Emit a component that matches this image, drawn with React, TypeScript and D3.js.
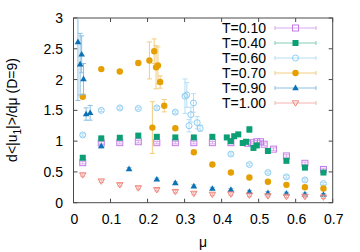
import React from "react";
import * as d3 from "d3";

const X_TICKS = [0, 0.1, 0.2, 0.3, 0.4, 0.5, 0.6, 0.7];
const X_TICK_LABELS = ["0", "0.1", "0.2", "0.3", "0.4", "0.5", "0.6", "0.7"];
const Y_TICKS = [0, 0.5, 1, 1.5, 2, 2.5, 3];
const Y_TICK_LABELS = ["0", "0.5", "1", "1.5", "2", "2.5", "3"];

const SERIES_NAMES = ["T=0.10", "T=0.40", "T=0.60", "T=0.70", "T=0.90", "T=1.00"];

const T10_MU = [0.025, 0.075, 0.125, 0.175, 0.225, 0.275, 0.325, 0.375, 0.425, 0.47, 0.48, 0.495, 0.505, 0.515, 0.54, 0.575, 0.625, 0.675];
const T10_V = [0.65, 0.97, 0.975, 0.99, 0.975, 0.975, 0.975, 0.975, 0.975, 0.965, 0.975, 0.99, 0.99, 0.95, 0.87, 0.76, 0.64, 0.54];
const T10_E = [0.02, 0.02, 0.02, 0.02, 0.02, 0.02, 0.02, 0.02, 0.02, 0.02, 0.02, 0.02, 0.02, 0.02, 0.02, 0.02, 0.02, 0.02];

const T40_MU = [0.025, 0.075, 0.125, 0.175, 0.225, 0.275, 0.325, 0.375, 0.414, 0.425, 0.434, 0.445, 0.457, 0.466, 0.475, 0.486, 0.495, 0.525, 0.575, 0.625, 0.675];
const T40_V = [0.73, 1.045, 1.055, 1.09, 1.07, 1.06, 1.06, 1.07, 1.06, 1.0, 1.08, 1.11, 0.97, 0.99, 1.19, 0.89, 0.93, 0.84, 0.68, 0.57, 0.49];
const T40_E = [0.02, 0.02, 0.02, 0.02, 0.02, 0.02, 0.02, 0.02, 0.02, 0.03, 0.03, 0.03, 0.03, 0.03, 0.05, 0.03, 0.03, 0.02, 0.02, 0.02, 0.02];

const T60_MU = [0.025, 0.075, 0.125, 0.175, 0.225, 0.275, 0.301, 0.306, 0.312, 0.317, 0.324, 0.334, 0.342, 0.425, 0.475, 0.525, 0.575, 0.625, 0.675];
const T60_V = [1.1, 1.5, 1.54, 1.53, 1.54, 1.47, 1.73, 1.75, 1.25, 1.43, 1.62, 1.3, 1.21, 0.79, 0.62, 0.49, 0.42, 0.37, 0.31];
const T60_E = [0.02, 0.02, 0.02, 0.02, 0.02, 0.02, 0.28, 0.2, 0.1, 0.12, 0.15, 0.1, 0.05, 0.02, 0.02, 0.02, 0.02, 0.02, 0.02];

const T70_MU = [0.025, 0.075, 0.125, 0.175, 0.205, 0.213, 0.218, 0.223, 0.228, 0.234, 0.245, 0.275, 0.325, 0.375, 0.425, 0.475, 0.525, 0.575, 0.625, 0.675];
const T70_V = [1.72, 2.17, 2.13, 2.27, 2.31, 1.22, 2.46, 2.2, 2.23, 1.96, 1.575, 1.21, 0.82, 0.62, 0.49, 0.41, 0.34, 0.29, 0.25, 0.23];
const T70_E = [0.02, 0.02, 0.02, 0.02, 0.3, 0.42, 0.2, 0.35, 0.3, 0.1, 0.1, 0.02, 0.02, 0.02, 0.02, 0.02, 0.02, 0.02, 0.02, 0.02];

const T90_MU = [0.012, 0.018, 0.022, 0.027, 0.034, 0.045, 0.075, 0.15, 0.225, 0.275, 0.325, 0.375, 0.425, 0.475, 0.525, 0.575, 0.625, 0.675];
const T90_V = [2.61, 2.25, 2.41, 2.01, 1.44, 1.46, 0.92, 0.55, 0.38, 0.32, 0.27, 0.23, 0.21, 0.18, 0.16, 0.15, 0.14, 0.13];
const T90_E = [0.95, 0.5, 0.3, 0.25, 0.1, 0.12, 0.03, 0.02, 0.02, 0.02, 0.02, 0.02, 0.02, 0.02, 0.02, 0.02, 0.02, 0.02];

const T100_MU = [0.025, 0.075, 0.125, 0.175, 0.225, 0.275, 0.325, 0.375, 0.425, 0.475, 0.525, 0.575, 0.625, 0.675];
const T100_V = [0.45, 0.35, 0.29, 0.24, 0.21, 0.18, 0.15, 0.135, 0.14, 0.12, 0.11, 0.1, 0.1, 0.09];
const T100_E = [0.02, 0.02, 0.02, 0.02, 0.02, 0.02, 0.02, 0.02, 0.02, 0.02, 0.02, 0.02, 0.02, 0.02];

type Shape = "sqOpen" | "sqFill" | "circOpen" | "circFill" | "triUp" | "triDownOpen";

const SERIES: { mu: number[]; v: number[]; e: number[]; color: string; bar: string; shape: Shape }[] = [
  { mu: T10_MU, v: T10_V, e: T10_E, color: "#c47ce6", bar: "#d9a8f0", shape: "sqOpen" },
  { mu: T40_MU, v: T40_V, e: T40_E, color: "#0c9e74", bar: "#80cfb6", shape: "sqFill" },
  { mu: T60_MU, v: T60_V, e: T60_E, color: "#8ecdf2", bar: "#b6def6", shape: "circOpen" },
  { mu: T70_MU, v: T70_V, e: T70_E, color: "#e69f00", bar: "#f1cd80", shape: "circFill" },
  { mu: T90_MU, v: T90_V, e: T90_E, color: "#0b72b5", bar: "#8cbfe2", shape: "triUp" },
  { mu: T100_MU, v: T100_V, e: T100_E, color: "#f0857c", bar: "#f4b3ad", shape: "triDownOpen" },
];

const W = 360;
const H = 252;
const L = 73.5;
const R = 332.7;
const TOP = 18;
const BOT = 202.7;
const FONT = "'Liberation Sans', Arial, sans-serif";

function Marker({ x, y, shape, color }: { x: number; y: number; shape: Shape; color: string }) {
  switch (shape) {
    case "sqOpen":
      return <rect x={x - 3} y={y - 3} width={6} height={6} fill="none" stroke={color} strokeWidth={1} />;
    case "sqFill":
      return <rect x={x - 3} y={y - 3} width={6} height={6} fill={color} />;
    case "circOpen":
      return <circle cx={x} cy={y} r={3} fill="none" stroke={color} strokeWidth={1} />;
    case "circFill":
      return <circle cx={x} cy={y} r={3.2} fill={color} />;
    case "triUp":
      return <path d={`M${x - 3.3},${y + 2.3}L${x + 3.3},${y + 2.3}L${x},${y - 3.4}Z`} fill={color} />;
    case "triDownOpen":
      return <path d={`M${x - 3.2},${y - 2.2}L${x + 3.2},${y - 2.2}L${x},${y + 3.2}Z`} fill="none" stroke={color} strokeWidth={1} />;
  }
}

export default function App() {
  const x = d3.scaleLinear().domain([0, 0.7]).range([L, R]);
  const y = d3.scaleLinear().domain([0, 3]).range([BOT, TOP]);
  const axisColor = "#4a4a4a";
  const cap = 2.5;

  return (
    <svg width={W} height={H} style={{ position: "absolute", left: 0, top: 0, background: "#fff" }} fontFamily={FONT}>
      <defs>
        <clipPath id="plotclip">
          <rect x={L} y={TOP} width={R - L} height={BOT - TOP} />
        </clipPath>
      </defs>
      <rect x={0} y={0} width={W} height={H} fill="#fff" />
      {/* ticks */}
      {X_TICKS.map((t, i) => (
        <g key={"xt" + i}>
          <line x1={x(t)} x2={x(t)} y1={BOT} y2={BOT - 4} stroke={axisColor} strokeWidth={1} />
          <line x1={x(t)} x2={x(t)} y1={TOP} y2={TOP + 4} stroke={axisColor} strokeWidth={1} />
          <text x={x(t) + 1} y={224} fontSize={14} textAnchor="middle" fill="#000">
            {X_TICK_LABELS[i]}
          </text>
        </g>
      ))}
      {Y_TICKS.map((t, i) => (
        <g key={"yt" + i}>
          <line x1={L} x2={L + 4} y1={y(t)} y2={y(t)} stroke={axisColor} strokeWidth={1} />
          <line x1={R} x2={R - 4} y1={y(t)} y2={y(t)} stroke={axisColor} strokeWidth={1} />
          <text x={63} y={y(t) + 5} fontSize={14} textAnchor="end" fill="#000">
            {Y_TICK_LABELS[i]}
          </text>
        </g>
      ))}
      <rect x={L} y={TOP} width={R - L} height={BOT - TOP} fill="none" stroke={axisColor} strokeWidth={1} />
      {/* data */}
      <g clipPath="url(#plotclip)">
        {SERIES.map((s, si) => (
          <g key={"s" + si}>
            {s.mu.map((m, i) => {
              const px = x(m);
              const y1 = y(s.v[i] + s.e[i]);
              const y2 = y(s.v[i] - s.e[i]);
              return (
                <g key={i}>
                  <line x1={px} x2={px} y1={y1} y2={y2} stroke={s.bar} strokeWidth={1} />
                  <line x1={px - cap} x2={px + cap} y1={y1} y2={y1} stroke={s.bar} strokeWidth={1} />
                  <line x1={px - cap} x2={px + cap} y1={y2} y2={y2} stroke={s.bar} strokeWidth={1} />
                </g>
              );
            })}
            {s.mu.map((m, i) => (
              <Marker key={"m" + i} x={x(m)} y={y(s.v[i])} shape={s.shape} color={s.color} />
            ))}
          </g>
        ))}
      </g>
      {/* legend */}
      {SERIES.map((s, si) => {
        const ly = 28 + si * 15;
        return (
          <g key={"lg" + si}>
            <text x={266} y={ly + 5} fontSize={14} textAnchor="end" fill="#000">
              {SERIES_NAMES[si]}
            </text>
            <line x1={275} x2={316} y1={ly} y2={ly} stroke={s.bar} strokeWidth={1} />
            <line x1={275} x2={275} y1={ly - 2} y2={ly + 2} stroke={s.bar} strokeWidth={1} />
            <line x1={316} x2={316} y1={ly - 2} y2={ly + 2} stroke={s.bar} strokeWidth={1} />
            <Marker x={295.5} y={ly} shape={s.shape} color={s.color} />
          </g>
        );
      })}
      {/* axis labels */}
      <text x={203} y={247} fontSize={14} textAnchor="middle" fill="#000">
        μ
      </text>
      <text transform={`translate(17,110) rotate(-90)`} fontSize={14} textAnchor="middle" fill="#000">
        d&lt;|u<tspan fontSize={10} dy={4}>1</tspan>
        <tspan dy={-4}>|&gt;/dμ (D=9)</tspan>
      </text>
    </svg>
  );
}
